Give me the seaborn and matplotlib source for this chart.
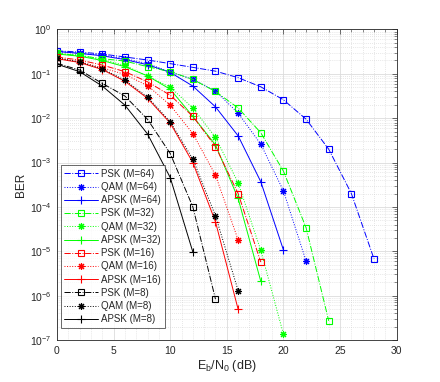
import numpy as np
import pandas as pd
import matplotlib
matplotlib.use("Agg")
import matplotlib.pyplot as plt
import seaborn as sns
from matplotlib.ticker import LogLocator, MultipleLocator, NullFormatter

# ---- data ----
ebn0_psk64 = [0, 2, 4, 6, 8, 10, 12, 14, 16, 18, 20, 22, 24, 26, 28]
ber_psk64 = [0.33, 0.31, 0.28, 0.24, 0.205, 0.17, 0.14, 0.115, 0.082, 0.051, 0.026, 0.0095, 0.002, 2.0e-4, 6.7e-6]
ebn0_qam64 = [0, 2, 4, 6, 8, 10, 12, 14, 16, 18, 20, 22]
ber_qam64 = [0.315, 0.29, 0.265, 0.22, 0.17, 0.11, 0.075, 0.041, 0.013, 0.0026, 2.3e-4, 6.0e-6]
ebn0_apsk64 = [0, 2, 4, 6, 8, 10, 12, 14, 16, 18, 20]
ber_apsk64 = [0.32, 0.29, 0.255, 0.21, 0.16, 0.108, 0.053, 0.018, 0.004, 3.7e-4, 1.07e-5]

ebn0_psk32 = [0, 2, 4, 6, 8, 10, 12, 14, 16, 18, 20, 22, 24]
ber_psk32 = [0.29, 0.256, 0.22, 0.194, 0.145, 0.112, 0.075, 0.04, 0.017, 0.0047, 6.4e-4, 3.4e-5, 2.7e-7]
ebn0_qam32 = [0, 2, 4, 6, 8, 10, 12, 14, 16, 18, 20]
ber_qam32 = [0.29, 0.266, 0.21, 0.155, 0.089, 0.05, 0.017, 0.0037, 3.5e-4, 1.05e-5, 1.35e-7]
ebn0_apsk32 = [0, 2, 4, 6, 8, 10, 12, 14, 16, 18]
ber_apsk32 = [0.28, 0.25, 0.2, 0.145, 0.09, 0.045, 0.011, 0.0025, 1.55e-4, 2.1e-6]

ebn0_psk16 = [0, 2, 4, 6, 8, 10, 12, 14, 16, 18]
ber_psk16 = [0.24, 0.205, 0.158, 0.112, 0.066, 0.033, 0.011, 0.0023, 2.0e-4, 5.7e-6]
ebn0_qam16 = [0, 2, 4, 6, 8, 10, 12, 14, 16]
ber_qam16 = [0.224, 0.188, 0.137, 0.097, 0.054, 0.0197, 0.0045, 5.2e-4, 1.8e-5]
ebn0_apsk16 = [0, 2, 4, 6, 8, 10, 12, 14, 16]
ber_apsk16 = [0.22, 0.18, 0.125, 0.068, 0.028, 0.0078, 0.001, 4.6e-5, 4.9e-7]

ebn0_psk8 = [0, 2, 4, 6, 8, 10, 12, 14]
ber_psk8 = [0.172, 0.122, 0.061, 0.0316, 0.0094, 0.0016, 1.0e-4, 8.3e-7]
ebn0_qam8 = [0, 2, 4, 6, 8, 10, 12, 14, 16]
ber_qam8 = [0.23, 0.185, 0.13, 0.072, 0.030, 0.0083, 0.0012, 6.3e-5, 1.3e-6]
ebn0_apsk8 = [0, 2, 4, 6, 8, 10, 12]
ber_apsk8 = [0.165, 0.112, 0.053, 0.0197, 0.0044, 4.6e-4, 9.6e-6]

labels = ["PSK (M=64)", "QAM (M=64)", "APSK (M=64)",
          "PSK (M=32)", "QAM (M=32)", "APSK (M=32)",
          "PSK (M=16)", "QAM (M=16)", "APSK (M=16)",
          "PSK (M=8)", "QAM (M=8)", "APSK (M=8)"]
xs = [ebn0_psk64, ebn0_qam64, ebn0_apsk64, ebn0_psk32, ebn0_qam32, ebn0_apsk32,
      ebn0_psk16, ebn0_qam16, ebn0_apsk16, ebn0_psk8, ebn0_qam8, ebn0_apsk8]
ys = [ber_psk64, ber_qam64, ber_apsk64, ber_psk32, ber_qam32, ber_apsk32,
      ber_psk16, ber_qam16, ber_apsk16, ber_psk8, ber_qam8, ber_apsk8]

colors = {64: "#0000ff", 32: "#00ff00", 16: "#ff0000", 8: "#000000"}
orders = [64, 64, 64, 32, 32, 32, 16, 16, 16, 8, 8, 8]
styles = ["-.", ":", "-"] * 4
markers = ["s", (8, 2, 0), "+"] * 4
msizes = {"s": 4.0, "+": 5.5}

sns.set_style("white")
plt.rcParams["font.family"] = ["Liberation Sans", "DejaVu Sans"]
plt.rcParams["mathtext.default"] = "regular"

fig = plt.figure(figsize=(4.4, 3.82), dpi=100)
ax = fig.add_axes([0.1295, 0.11, 0.772, 0.8128])

for x, y, lab, m, ls, mk in zip(xs, ys, labels, orders, styles, markers):
    df = pd.DataFrame({"x": x, "y": y})
    c = colors[m]
    sns.lineplot(data=df, x="x", y="y", ax=ax, color=c, linestyle=ls, linewidth=0.7,
                 marker=mk, markersize=msizes.get(mk, 5.0) if isinstance(mk, str) else 5.0,
                 markerfacecolor="none", markeredgecolor=c, markeredgewidth=0.8,
                 label=lab, estimator=None, sort=False)

ax.set_yscale("log")
ax.set_xlim(0, 30)
ax.set_ylim(1e-7, 1)
ax.xaxis.set_major_locator(MultipleLocator(5))
ax.xaxis.set_minor_locator(MultipleLocator(1))
ax.yaxis.set_major_locator(LogLocator(base=10, numticks=20))
ax.yaxis.set_minor_locator(LogLocator(base=10, subs=np.arange(2, 10), numticks=20))
ax.yaxis.set_minor_formatter(NullFormatter())

ax.grid(which="major", color="#dcdcdc", linestyle="-", linewidth=0.6)
ax.grid(which="minor", color="#d0d0d0", linestyle=(0, (1, 2)), linewidth=0.5)
ax.tick_params(which="both", direction="in", top=True, right=True, labelsize=7.5,
               color="#333333", labelcolor="#262626")
ax.tick_params(which="major", length=3.5, width=0.5, pad=4)
ax.tick_params(which="minor", length=2, width=0.4)
for s in ax.spines.values():
    s.set_color("#262626")
    s.set_linewidth(0.6)

ax.set_xlabel("$E_b/N_0$ (dB)", fontsize=9, labelpad=2, color="#262626")
ax.set_ylabel("BER", fontsize=8.5, labelpad=2, color="#262626")

leg = ax.legend(loc="lower left", bbox_to_anchor=(0.012, 0.04), borderaxespad=0,
                fontsize=7, frameon=True, fancybox=False,
                handlelength=3.5, labelspacing=0.33, borderpad=0.35,
                handletextpad=0.3)
leg.get_frame().set_edgecolor("#262626")
leg.get_frame().set_linewidth(0.6)
for t in leg.get_texts():
    t.set_color("#262626")

fig.savefig("out.png", dpi=100)
